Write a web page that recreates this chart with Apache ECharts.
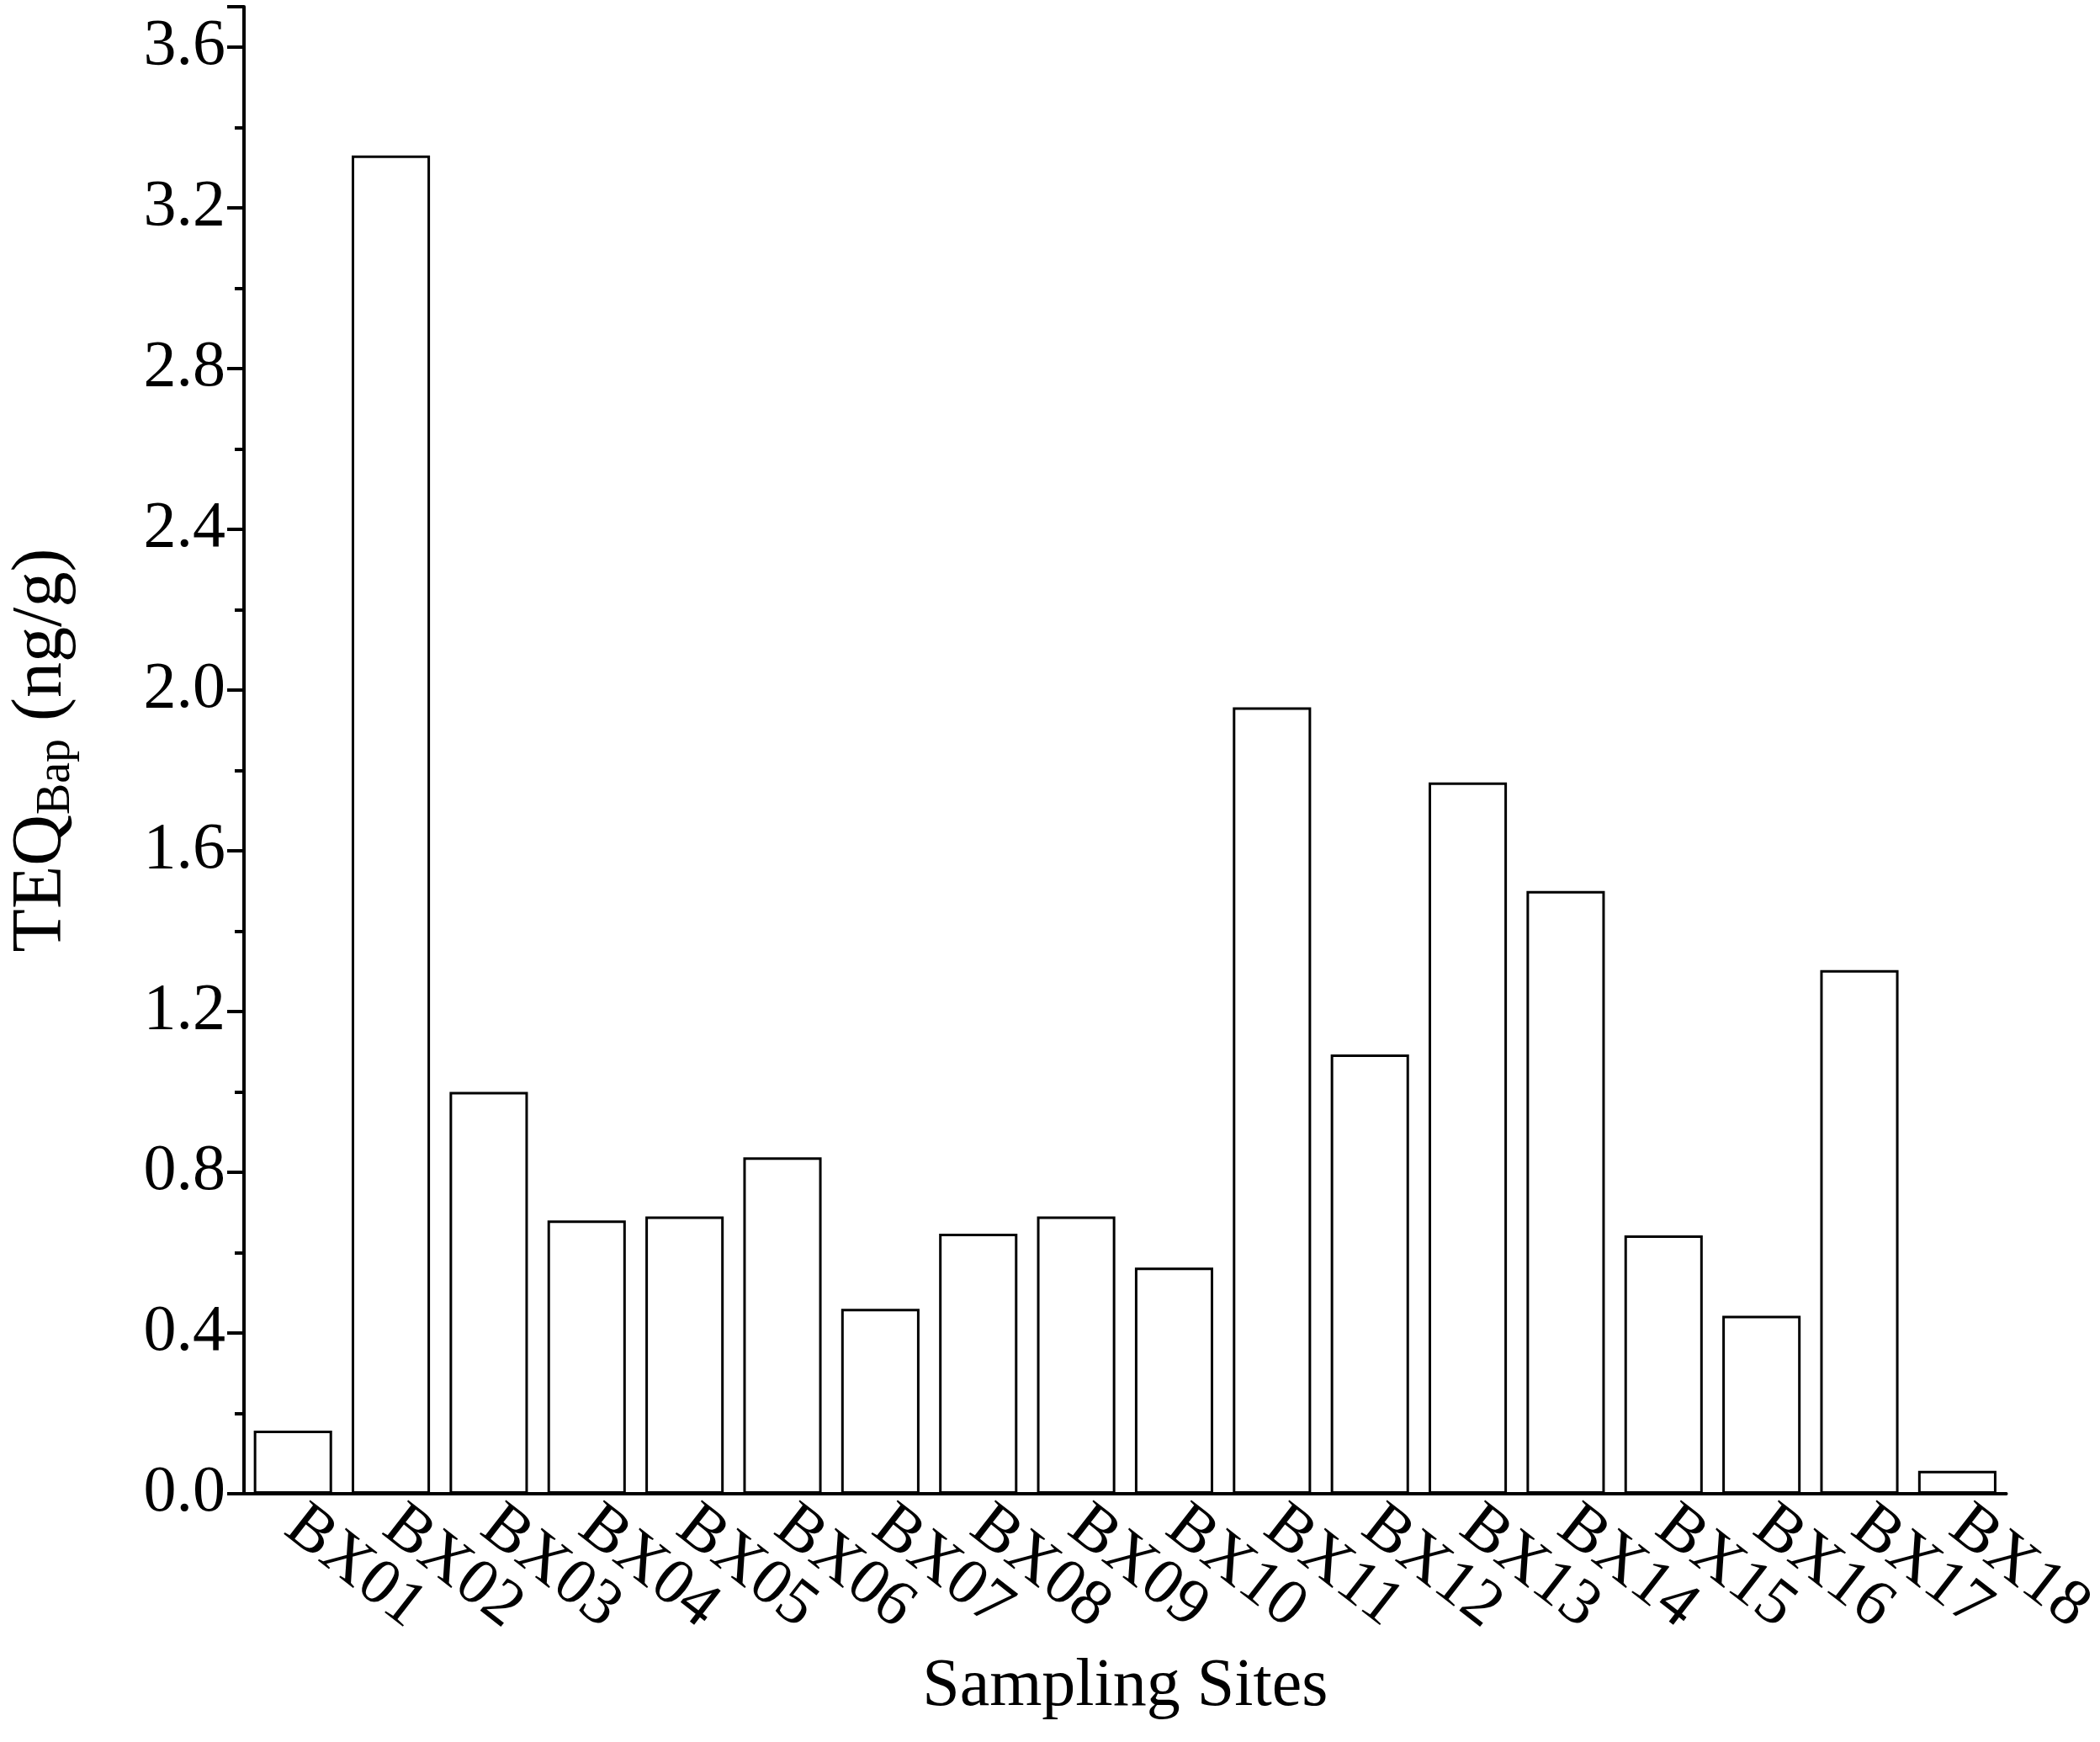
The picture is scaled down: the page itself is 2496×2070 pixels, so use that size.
<!DOCTYPE html>
<html><head><meta charset="utf-8">
<script src="https://cdn.jsdelivr.net/npm/echarts@6/dist/echarts.min.js"></script>
<style>html,body{margin:0;background:#fff}#c{width:2496px;height:2070px}</style>
</head><body><div id="c"></div>
<script>
const categories = ['BX01','BX02','BX03','BX04','BX05','BX06','BX07','BX08','BX09','BX10','BX11','BX12','BX13','BX14','BX15','BX16','BX17','BX18'];
const values = [0.157,3.33,1.00,0.68,0.69,0.837,0.46,0.647,0.69,0.563,1.957,1.093,1.77,1.50,0.643,0.443,1.303,0.057];
const F = 'Liberation Serif, Times New Roman, serif';
const chart = echarts.init(document.getElementById('c'));
chart.setOption({
  animation:false,
  grid:{left:266,right:6,top:8,bottom:295},
  xAxis:[{
    type:'category',data:categories,
    axisLine:{lineStyle:{color:'#000',width:4}},
    axisTick:{alignWithLabel:true,length:32,lineStyle:{color:'#000',width:4}},
    axisLabel:{interval:0,rotate:-38,fontFamily:F,fontSize:78,color:'#000',margin:30},
    name:'Sampling Sites',nameLocation:'middle',nameGap:190,
    nameTextStyle:{fontFamily:F,fontSize:80,color:'#000'}
  },{
    type:'category',data:categories,position:'bottom',
    axisLine:{show:false},
    axisTick:{length:14,lineStyle:{color:'#000',width:4}},
    axisLabel:{show:false}
  }],
  yAxis:{
    type:'value',min:0,max:3.7,interval:0.4,
    axisLine:{show:true,lineStyle:{color:'#000',width:4}},
    axisTick:{show:true,length:20,lineStyle:{color:'#000',width:4}},
    minorTick:{show:true,splitNumber:2,length:11,lineStyle:{color:'#000',width:4}},
    splitLine:{show:false},
    axisLabel:{fontFamily:F,fontSize:78,color:'#000',margin:22,
      formatter:v=>v.toFixed(1), showMaxLabel:false},
    name:'{a|TEQ}{b|Bap}{a| (ng/g)}',nameLocation:'middle',nameGap:195,
    nameTextStyle:{rich:{a:{fontFamily:F,fontSize:84,color:'#000'},
      b:{fontFamily:F,fontSize:56,color:'#000',padding:[34,0,0,0]}}}
  },
  series:[{type:'bar',data:values,barCategoryGap:'20%',
    itemStyle:{color:'#fff',borderColor:'#000',borderWidth:3}}]
});
</script></body></html>
